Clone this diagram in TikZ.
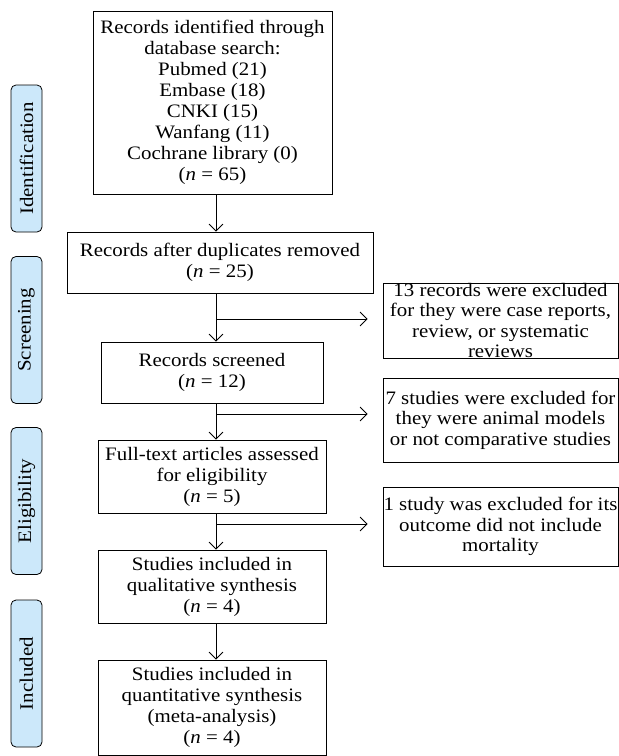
\documentclass[tikz,border=0pt]{standalone}
\usepackage{fontspec}
\setmainfont{Liberation Serif}[FakeStretch=1.1]
\usetikzlibrary{arrows.meta}
\definecolor{phaseblue}{RGB}{204,232,250}

\begin{document}
\begin{tikzpicture}[x=1pt,y=-1pt,
    box/.style={draw, line width=0.8pt, align=center, inner sep=0pt,
      font=\fontsize{19}{21}\selectfont},
    phase/.style={draw, line width=0.8pt, rounded corners=5pt, fill=phaseblue,
      rotate=90, minimum width=147pt, minimum height=31pt, inner sep=0pt,
      font=\fontsize{19}{21}\selectfont},
    arr/.style={-{Straight Barb[length=7pt,width=14pt]}, line width=0.8pt}]
  \useasboundingbox (0,0) rectangle (619,756);

  % phase labels
  \node[phase] (identification) at (26.5,158.5) {Identification};
  \node[phase] (screening) at (26.5,330) {Screening};
  \node[phase] (eligibility) at (26.5,501) {Eligibility};
  \node[phase] (included) at (26.5,673.5) {Included};

  % main column
  \node[box, minimum width=239pt, minimum height=183pt] (search) at (212.5,102.5)
    {Records identified through\\ database search:\\ Pubmed (21)\\ Embase (18)\\
     CNKI (15)\\ Wanfang (11)\\ Cochrane library (0)\\ (\textit{n} = 65)};
  \node[box, minimum width=306pt, minimum height=61pt] (dedup) at (220,262.5)
    {Records after duplicates removed\\ (\textit{n} = 25)};
  \node[box, minimum width=222pt, minimum height=61pt] (screened) at (212,372.5)
    {Records screened\\ (\textit{n} = 12)};
  \node[box, minimum width=228pt, minimum height=73pt] (fulltext) at (212,476.5)
    {Full-text articles assessed\\ for eligibility\\ (\textit{n} = 5)};
  \node[box, minimum width=228pt, minimum height=73pt] (qual) at (212,586.5)
    {Studies included in\\ qualitative synthesis\\ (\textit{n} = 4)};
  \node[box, minimum width=228pt, minimum height=95pt] (quant) at (212,707.5)
    {Studies included in\\ quantitative synthesis\\ (meta-analysis)\\ (\textit{n} = 4)};

  % exclusion boxes
  \node[box, minimum width=235pt, minimum height=75pt, font=\fontsize{19}{20.5}\selectfont] (excl1) at (500.5,320.5)
    {13 records were excluded\\ for they were case reports,\\ review, or systematic\\ reviews};
  \node[box, minimum width=235pt, minimum height=84pt, font=\fontsize{19}{20.5}\selectfont] (excl2) at (500.5,420)
    {7 studies were excluded for\\ they were animal models\\ or not comparative studies};
  \node[box, minimum width=235pt, minimum height=79pt, font=\fontsize{19}{20.5}\selectfont] (excl3) at (500.5,526.5)
    {1 study was excluded for its\\ outcome did not include\\ mortality};

  % connectors
  \coordinate (spine) at (216,0);
  \coordinate (b1) at (216,319);
  \coordinate (b2) at (216,414);
  \coordinate (b3) at (216,524);
  \draw[arr] (search.south -| spine) -- (dedup.north -| spine);
  \draw[arr] (dedup.south -| spine) -- (screened.north -| spine);
  \draw[arr] (screened.south -| spine) -- (fulltext.north -| spine);
  \draw[arr] (fulltext.south -| spine) -- (qual.north -| spine);
  \draw[arr] (qual.south -| spine) -- (quant.north -| spine);
  \draw[arr, shorten >=15pt] (b1) -- (b1 -| excl1.west);
  \draw[arr, shorten >=15pt] (b2) -- (b2 -| excl2.west);
  \draw[arr, shorten >=15pt] (b3) -- (b3 -| excl3.west);
\end{tikzpicture}
\end{document}
